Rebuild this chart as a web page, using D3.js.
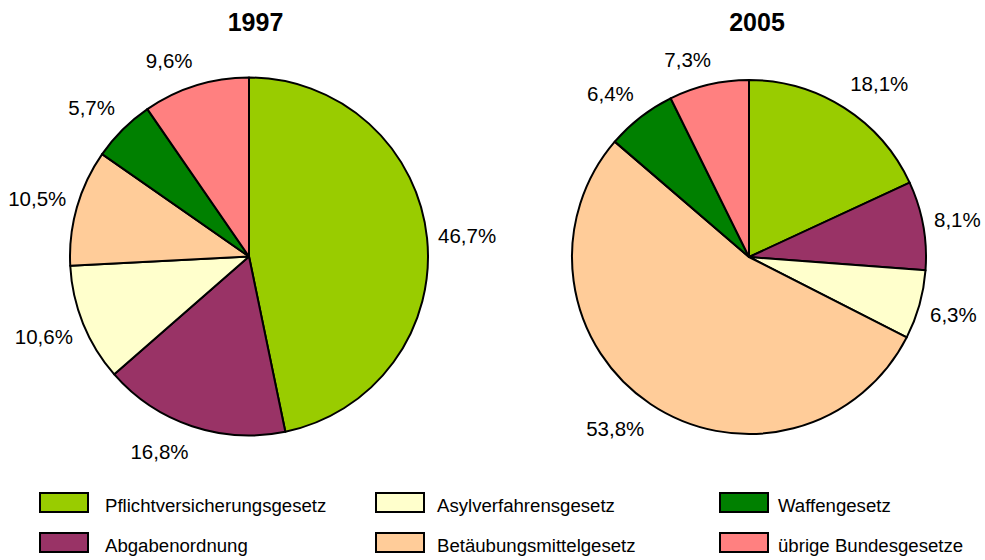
<!DOCTYPE html>
<html>
<head>
<meta charset="utf-8">
<script src="https://cdn.jsdelivr.net/npm/d3@7/dist/d3.min.js"></script>
<style>
  html, body { margin: 0; padding: 0; background: #ffffff; }
  svg { display: block; font-family: "Liberation Sans", Arial, sans-serif; }
</style>
</head>
<body>
<svg id="chart" width="985" height="560"></svg>
<script>
// Categories (clockwise from 12 o'clock) and their colours
const categories = [
  "Pflichtversicherungsgesetz",
  "Abgabenordnung",
  "Asylverfahrensgesetz",
  "Betäubungsmittelgesetz",
  "Waffengesetz",
  "übrige Bundesgesetze"
];
const colors = ["#99CC00", "#993366", "#FFFFCC", "#FFCC99", "#008000", "#FF8080"];

// Shares in percent per year
const years = ["1997", "2005"];
const values1997 = [46.7, 16.8, 10.6, 10.5, 5.7, 9.6];
const values2005 = [18.1, 8.1, 6.3, 53.8, 6.4, 7.3];

const svg = d3.select("#chart");

const color = d3.scaleOrdinal().domain(categories).range(colors);
const fmt = v => d3.format(".1f")(v).replace(".", ",") + "%";

const pies = [
  { year: years[0], values: values1997, cx: 249, cy: 256.5, r: 179, titleX: 255.5 },
  { year: years[1], values: values2005, cx: 749, cy: 257, r: 177, titleX: 757 }
];

const pie = d3.pie().sort(null).value(d => d.value);
const labelSize = 20.5;
const capH = 0.716 * labelSize;
const clamp = v => Math.max(-1, Math.min(1, v));

pies.forEach(p => {
  const data = categories.map((c, i) => ({ cat: c, value: p.values[i] }));
  const arcs = pie(data);
  const arc = d3.arc().innerRadius(0).outerRadius(p.r);

  // title
  svg.append("text")
    .attr("x", p.titleX)
    .attr("y", 30.5)
    .attr("text-anchor", "middle")
    .attr("font-size", 25)
    .attr("font-weight", "bold")
    .attr("fill", "#000")
    .text(p.year);

  const g = svg.append("g").attr("transform", `translate(${p.cx},${p.cy})`);

  g.selectAll("path.slice")
    .data(arcs)
    .join("path")
    .attr("class", "slice")
    .attr("d", arc)
    .attr("fill", d => color(d.data.cat))
    .attr("stroke", "#000")
    .attr("stroke-width", 2)
    .attr("stroke-linejoin", "round");

  // value labels outside each slice, their near corner anchored on the mid-angle ray
  const labels = g.selectAll("text.val")
    .data(arcs)
    .join("text")
    .attr("class", "val")
    .attr("font-size", labelSize)
    .attr("fill", "#000")
    .attr("text-anchor", "middle")
    .text(d => fmt(d.data.value));

  labels.each(function (d) {
    const w = this.getComputedTextLength();
    const a = (d.startAngle + d.endAngle) / 2;
    const ux = Math.sin(a), uy = -Math.cos(a);
    const ra = p.r + 11;
    const cx = ra * ux + (w / 2) * clamp(3.5 * ux);
    const cy = ra * uy + 15 * clamp(1.5 * uy) + 0.5;
    d3.select(this).attr("x", cx).attr("y", cy + capH / 2);
  });
});

// legend: 3 columns x 2 rows, filled column by column
const legendBoxX = [39, 375, 719];
const legendTextX = [105, 437, 778];
const legendRowY = [492, 532];
const legend = svg.append("g");
categories.forEach((c, i) => {
  const col = Math.floor(i / 2), row = i % 2;
  legend.append("rect")
    .attr("x", legendBoxX[col] + 1)
    .attr("y", legendRowY[row] + 1)
    .attr("width", 48)
    .attr("height", 19)
    .attr("fill", color(c))
    .attr("stroke", "#000")
    .attr("stroke-width", 2);
  legend.append("text")
    .attr("transform", `translate(${legendTextX[col]},${legendRowY[row] + 20}) scale(0.98,1)`)
    .attr("font-size", 19)
    .attr("fill", "#000")
    .text(c);
});
</script>
</body>
</html>
